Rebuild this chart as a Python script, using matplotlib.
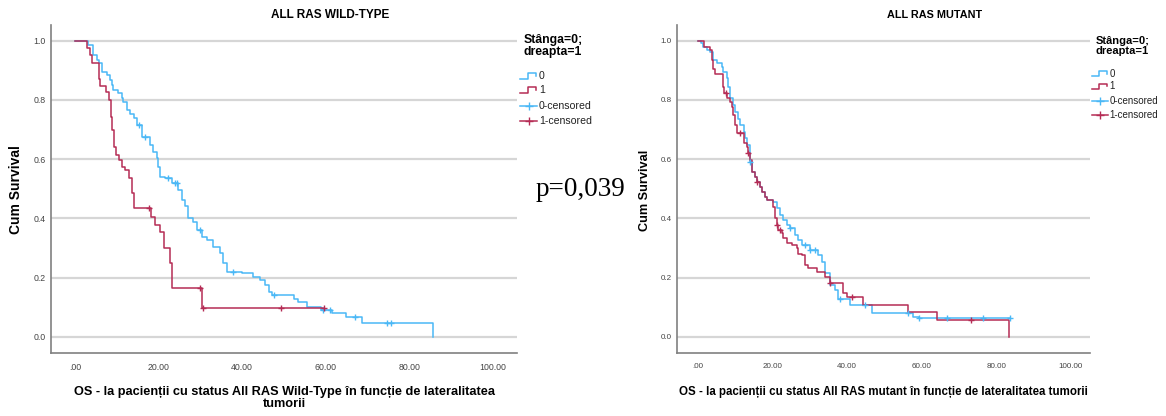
import matplotlib
matplotlib.use('Agg')
import matplotlib.pyplot as plt
from matplotlib.lines import Line2D
import numpy as np

plt.rcParams['font.family'] = ['Liberation Sans', 'DejaVu Sans']

W, H = 1166, 416

BLUE = '#4ab8f6'
RED = '#b52c55'

# ---- ALL RAS WILD-TYPE ----
wt0_time = [0, 3.2, 4.4, 5.2, 5.8, 6.4, 7.6, 8.4, 8.8, 9.2, 10.4, 11.2, 11.6, 12.4, 13.2,
            14.0, 14.8, 16.0, 17.9, 18.7, 19.5, 19.9, 20.3, 21.5, 23.1, 24.7, 25.5, 26.3,
            27.1, 28.3, 29.1, 30.3, 31.5, 33.1, 34.7, 35.5, 36.3, 39.9, 42.7, 44.3, 45.5,
            46.3, 47.1, 52.3, 53.4, 55.6, 58.8, 61.6, 64.8, 68.6, 85.6]
wt0_surv = [1.0, 0.985, 0.951, 0.935, 0.923, 0.895, 0.884, 0.867, 0.850, 0.833, 0.822,
            0.805, 0.794, 0.766, 0.754, 0.738, 0.715, 0.676, 0.648, 0.625, 0.603, 0.575,
            0.541, 0.535, 0.518, 0.496, 0.462, 0.440, 0.400, 0.389, 0.360, 0.338, 0.327,
            0.304, 0.282, 0.248, 0.220, 0.214, 0.203, 0.191, 0.174, 0.152, 0.140, 0.129,
            0.118, 0.100, 0.090, 0.079, 0.068, 0.047, 0.0]
wt0_cens = [15.4, 16.8, 22.3, 23.9, 24.3, 30.0, 37.7, 47.5, 59.4, 61.0, 67.1, 74.6, 75.5]

wt1_time = [0, 2.9, 3.6, 4.1, 5.8, 6.1, 7.4, 8.2, 8.5, 8.85, 9.3, 9.8, 10.6, 11.2, 12.0,
            12.8, 13.6, 14.2, 18.2, 19.1, 20.3, 21.4, 22.7, 23.3, 30.4, 59.6]
wt1_surv = [1.0, 0.974, 0.952, 0.924, 0.870, 0.847, 0.828, 0.800, 0.743, 0.698, 0.642,
            0.614, 0.597, 0.575, 0.563, 0.535, 0.484, 0.434, 0.405, 0.377, 0.355, 0.300,
            0.250, 0.163, 0.096, 0.096]
wt1_cens = [17.8, 29.8, 30.6, 49.4, 59.6]

# ---- ALL RAS MUTANT ----
mt0_time = [0, 0.7, 1.4, 2.3, 3.2, 4.1, 5.0, 6.4, 6.8, 7.7, 8.1, 8.6, 9.3, 9.9, 10.8,
            11.3, 12.2, 12.6, 13.1, 13.9, 14.4, 15.3, 15.7, 16.6, 17.1, 18.0, 18.4, 20.2,
            21.1, 22.0, 22.9, 23.8, 24.7, 26.0, 26.9, 27.8, 30.0, 32.3, 33.2, 34.1, 35.4,
            36.7, 37.6, 40.8, 46.6, 57.7, 59.3, 83.7]
mt0_surv = [1.0, 0.991, 0.980, 0.968, 0.963, 0.935, 0.923, 0.912, 0.895, 0.873, 0.845,
            0.805, 0.782, 0.760, 0.737, 0.715, 0.692, 0.670, 0.647, 0.591, 0.557, 0.541,
            0.524, 0.507, 0.490, 0.473, 0.462, 0.456, 0.434, 0.411, 0.394, 0.377, 0.366,
            0.343, 0.326, 0.310, 0.293, 0.276, 0.253, 0.214, 0.174, 0.157, 0.129, 0.107,
            0.079, 0.068, 0.062, 0.062]
mt0_cens = [13.9, 24.7, 28.7, 30.0, 31.4, 38.1, 44.8, 56.4, 59.3, 66.8, 76.3, 83.7]

mt1_time = [0, 1.6, 3.2, 3.66, 4.1, 4.6, 6.6, 7.1, 7.7, 8.6, 9.0, 9.5, 9.9, 10.5, 12.2,
            13.1, 13.5, 13.9, 14.4, 15.3, 15.7, 16.6, 17.1, 18.0, 18.4, 20.2, 20.6, 21.1,
            21.5, 22.4, 22.9, 23.8, 25.1, 26.5, 26.9, 27.8, 28.7, 29.6, 31.8, 34.1, 35.4,
            38.9, 39.9, 44.3, 56.4, 64.0, 83.5]
mt1_surv = [1.0, 0.980, 0.968, 0.935, 0.906, 0.886, 0.845, 0.822, 0.805, 0.794, 0.777,
            0.749, 0.715, 0.687, 0.653, 0.642, 0.619, 0.597, 0.557, 0.541, 0.524, 0.507,
            0.490, 0.473, 0.462, 0.439, 0.400, 0.377, 0.360, 0.349, 0.332, 0.315, 0.309,
            0.298, 0.281, 0.275, 0.242, 0.231, 0.220, 0.203, 0.180, 0.146, 0.135, 0.107,
            0.085, 0.056, 0.0]
mt1_cens = [7.6, 11.2, 13.5, 15.7, 21.1, 22.0, 35.4, 41.2, 73.3]

x_ticks = [0, 20, 40, 60, 80, 100]
x_tick_labels = ['.00', '20.00', '40.00', '60.00', '80.00', '100.00']
y_ticks = [0.0, 0.2, 0.4, 0.6, 0.8, 1.0]
y_tick_labels = ['0.0', '0.2', '0.4', '0.6', '0.8', '1.0']
legend_labels = ['0', '1', '0-censored', '1-censored']


def fx(px):
    return px / W


def fy(py):
    return 1 - py / H


def surv_at(times, surv, tc):
    idx = np.searchsorted(times, tc, side='right') - 1
    return np.array(surv)[idx]


def km_panel(px0, px1, t0px, t100px, curves, fs):
    ax = fig.add_axes([fx(px0), fy(353), fx(px1) - fx(px0), fy(25) - fy(353)])
    scale = (t100px - t0px) / 100.0
    ax.set_xlim((px0 - t0px) / scale, (px1 - t0px) / scale)
    ax.set_ylim(-(353 - 336.7) / 296, 1 + (40.7 - 25) / 296)
    for t, s, tc, col in curves:
        ax.plot(t, s, drawstyle='steps-post', color=col, lw=1.1, zorder=3)
        ax.plot(tc, surv_at(t, s, tc), ls='none', marker='+', ms=4.5, mew=1.0,
                color=col, zorder=4)
    for yv in y_ticks:
        ax.axhline(yv, color='#d6d6d6', lw=1.6, zorder=1)
    ax.set_xticks(x_ticks)
    ax.set_xticklabels(x_tick_labels)
    ax.set_yticks(y_ticks)
    ax.set_yticklabels(y_tick_labels)
    ax.tick_params(length=0, labelsize=fs, colors='#444444')
    ax.tick_params(axis='x', pad=7)
    ax.tick_params(axis='y', pad=4)
    for side in ['top', 'right']:
        ax.spines[side].set_visible(False)
    for side in ['left', 'bottom']:
        ax.spines[side].set_color('#808080')
        ax.spines[side].set_linewidth(1.2)
    return ax


def legend_at(x0, y0, k, fs_title, fs_item):
    fig.text(fx(x0 + 4 * k), fy(y0), 'Stânga=0;\ndreapta=1', fontsize=fs_title,
             fontweight='bold', va='center', ha='left', linespacing=1.05)
    rows = [y0 + 30 * k, y0 + 44 * k, y0 + 60 * k, y0 + 75 * k]
    cols = [BLUE, RED, BLUE, RED]
    for i, (yy, col, lab) in enumerate(zip(rows, cols, legend_labels)):
        if i < 2:
            xs = [x0, x0 + 8 * k, x0 + 8 * k, x0 + 16 * k, x0 + 16 * k]
            ys = [yy + 3 * k, yy + 3 * k, yy - 3 * k, yy - 3 * k, yy]
            fig.add_artist(Line2D([fx(v) for v in xs], [fy(v) for v in ys], color=col, lw=1.1))
        else:
            fig.add_artist(Line2D([fx(x0), fx(x0 + 17 * k)], [fy(yy), fy(yy)], color=col, lw=1.1))
            fig.add_artist(Line2D([fx(x0 + 8.5 * k)], [fy(yy)], marker='+', ms=6, mew=1.0,
                                  color=col, ls='none'))
        fig.text(fx(x0 + 19 * k), fy(yy), lab, fontsize=fs_item, va='center', ha='left',
                 color='#222222')


fig = plt.figure(figsize=(W / 100, H / 100), dpi=100)

km_panel(51, 517, 75, 493,
         [(wt0_time, wt0_surv, wt0_cens, BLUE), (wt1_time, wt1_surv, wt1_cens, RED)], 6.3)
km_panel(677, 1090, 698, 1071,
         [(mt0_time, mt0_surv, mt0_cens, BLUE), (mt1_time, mt1_surv, mt1_cens, RED)], 5.8)

fig.text(fx(330), fy(15), 'ALL RAS WILD-TYPE', fontsize=8.5, fontweight='bold',
         ha='center', va='center')
fig.text(fx(935), fy(15), 'ALL RAS MUTANT', fontsize=7.8, fontweight='bold',
         ha='center', va='center')

fig.text(fx(16), fy(190), 'Cum Survival', fontsize=10, fontweight='bold', rotation=90,
         ha='center', va='center')
fig.text(fx(645), fy(190), 'Cum Survival', fontsize=9.2, fontweight='bold', rotation=90,
         ha='center', va='center')

fig.text(fx(284), fy(398), 'OS - la pacienții cu status All RAS Wild-Type în funcție de lateralitatea\ntumorii',
         fontsize=9.2, fontweight='bold', ha='center', va='center', linespacing=0.95)
fig.text(fx(883), fy(392), 'OS - la pacienții cu status All RAS mutant în funcție de lateralitatea tumorii',
         fontsize=8.3, fontweight='bold', ha='center', va='center')

fig.text(fx(580), fy(190), 'p=0,039', fontsize=19.5, family='Liberation Serif',
         ha='center', va='center')

legend_at(520, 46, 1.0, 8.8, 7.6)
legend_at(1092, 46, 0.92, 8.0, 7.0)

fig.savefig('out.png', dpi=100)
